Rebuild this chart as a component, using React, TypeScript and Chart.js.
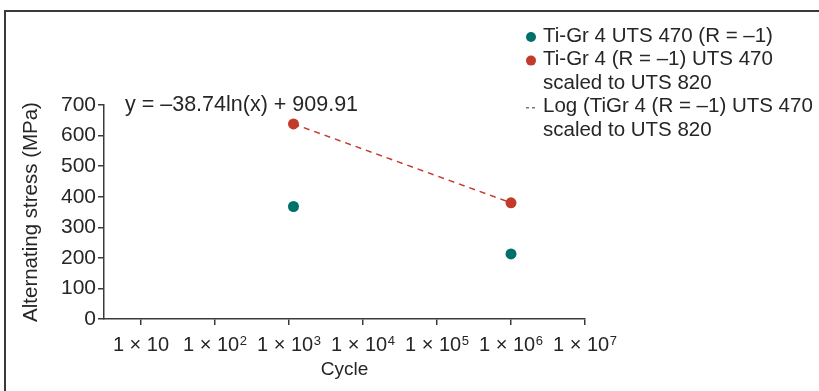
import React, { useEffect, useRef } from 'react';
import { Chart, registerables } from 'chart.js';

Chart.register(...registerables);

const FONT = "'Liberation Sans', Arial, sans-serif";

// X axis: cycles (log scale), tick values and their labels (base + superscript exponent)
const cycleTicks = [1e1, 1e2, 1e3, 1e4, 1e5, 1e6, 1e7];
const cycleTickBase = '1 × 10';
const cycleTickExponents = ['', '2', '3', '4', '5', '6', '7'];
const cycleMin = 3.1623; // half a decade below 10
const cycleMax = 1e7;

// Y axis: alternating stress (MPa)
const stressTicks = [0, 100, 200, 300, 400, 500, 600, 700];

// Series
const uts470Cycles = [1150, 1000000];
const uts470Stress = [368, 213];

const scaledCycles = [1150, 1000000];
const scaledStress = [638, 380];

const trendCycles = [1150, 1000000];
const trendStress = [638, 380];

const legendLabels = [
  ['Ti-Gr 4 UTS 470 (R = –1)'],
  ['Ti-Gr 4 (R = –1) UTS 470', 'scaled to UTS 820'],
  ['Log (TiGr 4 (R = –1) UTS 470', 'scaled to UTS 820'],
];
const equationText = 'y = –38.74ln(x) + 909.91';

const TEAL = '#00706a';
const RED = '#c23b2a';
const TEXT = '#262626';
const AXIS = '#3a3a3a';

const toPoints = (xs: number[], ys: number[]) => xs.map((x, i) => ({ x, y: ys[i] }));

const overlayPlugin = {
  id: 'overlay',
  afterDraw(chart: any) {
    const ctx = chart.ctx as CanvasRenderingContext2D;
    const area = chart.chartArea;
    const xScale = chart.scales.x;
    ctx.save();

    // x tick labels with superscript exponents
    ctx.fillStyle = TEXT;
    ctx.textBaseline = 'alphabetic';
    ctx.textAlign = 'left';
    const baseY = area.bottom + 32;
    cycleTicks.forEach((v, i) => {
      const px = xScale.getPixelForValue(v);
      ctx.font = `20px ${FONT}`;
      const wBase = ctx.measureText(cycleTickBase).width;
      ctx.font = `13px ${FONT}`;
      const exp = cycleTickExponents[i];
      const wExp = exp ? ctx.measureText(exp).width + 0.5 : 0;
      const x0 = px - (wBase + wExp) / 2;
      ctx.font = `20px ${FONT}`;
      ctx.fillText(cycleTickBase, x0, baseY);
      if (exp) {
        ctx.font = `13px ${FONT}`;
        ctx.fillText(exp, x0 + wBase + 0.5, baseY - 6.5);
      }
    });

    // legend
    const markerX = 528;
    const textX = 543;
    const top = 36;
    const rowH = 23.6;
    ctx.font = `20.5px ${FONT}`;
    ctx.textBaseline = 'middle';
    ctx.textAlign = 'left';
    let row = 0;
    chart.data.datasets.forEach((ds: any, i: number) => {
      const y = top + row * rowH;
      if (ds.showLine) {
        ctx.strokeStyle = '#555';
        ctx.lineWidth = 1.2;
        ctx.setLineDash([3, 3]);
        ctx.beginPath();
        ctx.moveTo(markerX - 2, y + 1);
        ctx.lineTo(markerX + 10, y + 1);
        ctx.stroke();
        ctx.setLineDash([]);
      } else {
        ctx.fillStyle = ds.backgroundColor;
        ctx.beginPath();
        ctx.arc(markerX + 3, y + 1, 5, 0, Math.PI * 2);
        ctx.fill();
      }
      ctx.fillStyle = TEXT;
      legendLabels[i].forEach((line, j) => {
        ctx.fillText(line, textX, top + (row + j) * rowH);
      });
      row += legendLabels[i].length;
    });

    // trendline equation
    ctx.font = `21.5px ${FONT}`;
    ctx.fillStyle = TEXT;
    ctx.fillText(equationText, area.left + 21, area.top);
    ctx.restore();
  },
};

export default function App() {
  const ref = useRef<HTMLCanvasElement | null>(null);

  useEffect(() => {
    if (!ref.current) return;
    const chart = new Chart(ref.current, {
      type: 'scatter',
      data: {
        datasets: [
          {
            label: legendLabels[0].join(' '),
            data: toPoints(uts470Cycles, uts470Stress),
            backgroundColor: TEAL,
            borderColor: TEAL,
            pointRadius: 5.5,
            pointBorderWidth: 0,
          },
          {
            label: legendLabels[1].join(' '),
            data: toPoints(scaledCycles, scaledStress),
            backgroundColor: RED,
            borderColor: RED,
            pointRadius: 5.5,
            pointBorderWidth: 0,
          },
          {
            label: legendLabels[2].join(' '),
            data: toPoints(trendCycles, trendStress),
            showLine: true,
            borderColor: RED,
            backgroundColor: RED,
            borderWidth: 1.4,
            borderDash: [6, 5],
            pointRadius: 0,
          } as any,
        ],
      },
      options: {
        animation: false,
        responsive: false,
        layout: { padding: { left: 10, top: 105, right: 234, bottom: 0 } },
        plugins: { legend: { display: false }, tooltip: { enabled: false } },
        scales: {
          x: {
            type: 'logarithmic',
            min: cycleMin,
            max: cycleMax,
            afterBuildTicks: (scale: any) => {
              scale.ticks = cycleTicks.map((v) => ({ value: v }));
            },
            afterFit: (scale: any) => {
              scale.height = 72;
            },
            ticks: {
              display: false,
              autoSkip: false,
              maxRotation: 0,
            },
            grid: { drawOnChartArea: false, drawTicks: true, tickLength: 6, color: AXIS, lineWidth: 1.5 },
            border: { display: true, color: AXIS, width: 1.5 },
            title: {
              display: true,
              text: 'Cycle',
              color: TEXT,
              font: { family: FONT, size: 19 },
              padding: { top: 0, bottom: 10 },
            },
          },
          y: {
            type: 'linear',
            min: 0,
            max: 700,
            afterBuildTicks: (scale: any) => {
              scale.ticks = stressTicks.map((v) => ({ value: v }));
            },
            afterFit: (scale: any) => {
              scale.width = 94;
            },
            ticks: {
              padding: 2,
              color: TEXT,
              font: { family: FONT, size: 21 },
            },
            grid: { drawOnChartArea: false, drawTicks: true, tickLength: 6, color: AXIS, lineWidth: 1.5 },
            border: { display: true, color: AXIS, width: 1.5 },
            title: {
              display: true,
              text: 'Alternating stress (MPa)',
              color: TEXT,
              font: { family: FONT, size: 20.5 },
              padding: { top: 9, bottom: 0 },
            },
          },
        },
      },
      plugins: [overlayPlugin],
    } as any);
    return () => chart.destroy();
  }, []);

  return (
    <div style={{ position: 'absolute', left: 0, top: 0, width: 819, height: 391, background: '#fff' }}>
      <div
        style={{
          position: 'absolute',
          left: 4,
          top: 10,
          width: 815,
          height: 381,
          borderTop: `2px solid ${AXIS}`,
          borderLeft: `2px solid ${AXIS}`,
          boxSizing: 'border-box',
        }}
      />
      <canvas ref={ref} width={819} height={391} style={{ position: 'absolute', left: 0, top: 0, display: 'block' }} />
    </div>
  );
}
